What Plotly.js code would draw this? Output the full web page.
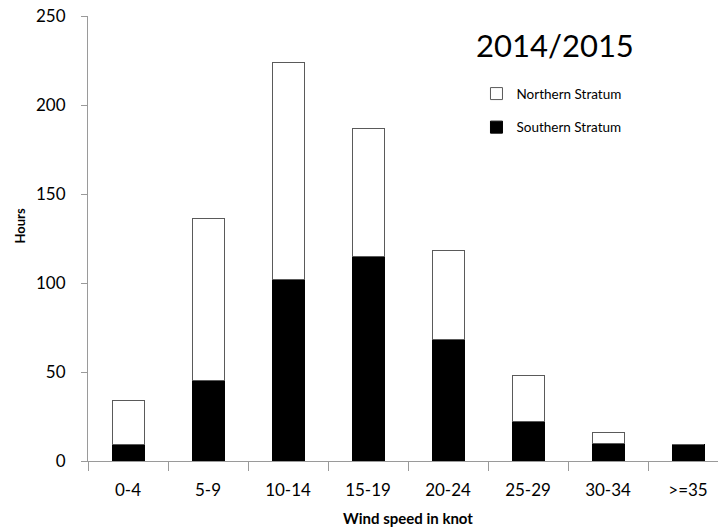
<!DOCTYPE html>
<html>
<head>
<meta charset="utf-8">
<script src="https://cdn.plot.ly/plotly-3.0.1.min.js"></script>
<style>
html,body{margin:0;padding:0;overflow:hidden;background:#fff;width:718px;height:528px;}
#chart{width:728px;height:528px;}
</style>
</head>
<body>
<div id="chart"></div>
<script>
const categories = ['0-4','5-9','10-14','15-19','20-24','25-29','30-34','>=35'];
const southern = [9, 45, 102, 115, 68, 22, 10, 9];
const northern = [25, 91, 122, 72, 50, 26, 6, 0];
const yTicks = [0, 50, 100, 150, 200, 250];

const FONT = 'Lato, "Open Sans", sans-serif';

const traces = [
  {
    type: 'bar', name: 'Southern Stratum', x: categories, y: southern,
    marker: {color: '#000000', line: {color: '#000000', width: 1}},
    legendgroup: 's', legendrank: 2, hoverinfo: 'x+y+name'
  },
  {
    type: 'bar', name: 'Northern Stratum', x: categories, y: northern,
    marker: {color: '#ffffff', line: {color: '#5a5a5a', width: 1}},
    legendgroup: 'n', legendrank: 1, hoverinfo: 'x+y+name'
  }
];

const layout = {
  width: 728, height: 528,
  margin: {l: 88, r: 0, t: 16, b: 67},
  paper_bgcolor: '#ffffff', plot_bgcolor: '#ffffff',
  barmode: 'stack', bargap: 0.6,
  showlegend: true,
  legend: {
    x: 0.607, y: 0.86, xanchor: 'left', yanchor: 'top',
    traceorder: 'grouped', tracegroupgap: 13,
    font: {family: FONT, size: 13.5, color: '#000'},
    bgcolor: 'rgba(0,0,0,0)', itemwidth: 30
  },
  font: {family: FONT, color: '#000'},
  xaxis: {
    type: 'category', range: [-0.5, 7.5],
    showline: true, linecolor: '#9a9a9a', linewidth: 1,
    ticks: 'outside', tickson: 'boundaries', ticklen: 9, tickcolor: '#9a9a9a',
    showgrid: false, zeroline: false,
    tickfont: {family: FONT, size: 17, color: '#000'},
    ticklabelstandoff: 14,
    title: {text: 'Wind speed in knot', font: {family: FONT, size: 15, color: '#000', weight: 'bold'}, standoff: 14}
  },
  yaxis: {
    range: [0, 250], tickvals: yTicks, ticktext: yTicks.map(String),
    showline: true, linecolor: '#9a9a9a', linewidth: 1,
    ticks: 'outside', ticklen: 6, tickcolor: '#9a9a9a',
    showgrid: false, zeroline: false,
    tickfont: {family: FONT, size: 17, color: '#000'},
    ticklabelstandoff: 12
  },
  annotations: [
    {text: '2014/2015', xref: 'paper', yref: 'paper', x: 0.73, y: 0.935,
     xanchor: 'center', yanchor: 'middle', showarrow: false,
     font: {family: FONT, size: 31, color: '#000'}},
    {text: '<b>Hours</b>', xref: 'paper', yref: 'paper', x: -0.1055, y: 0.528,
     xanchor: 'center', yanchor: 'middle', showarrow: false, textangle: -90,
     xshift: 0, font: {family: FONT, size: 13, color: '#000'}}
  ]
};

Plotly.newPlot('chart', traces, layout, {displayModeBar: false, responsive: false});
</script>
</body>
</html>
